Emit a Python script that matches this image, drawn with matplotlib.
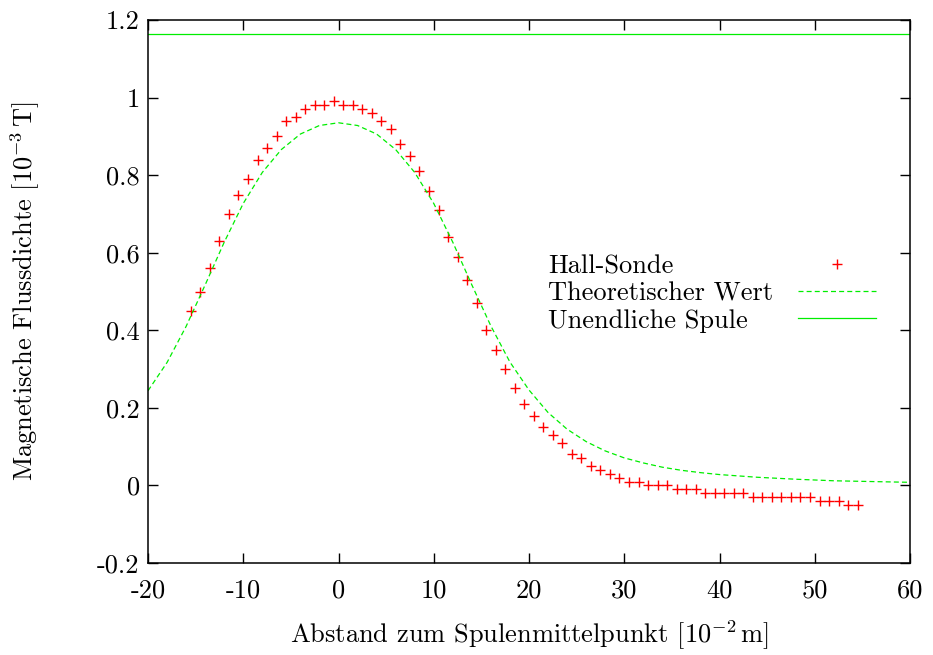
import matplotlib
matplotlib.use("Agg")
import matplotlib.pyplot as plt
import numpy as np

plt.rcParams['font.family'] = 'serif'
plt.rcParams['font.serif'] = ['cmr10']
plt.rcParams['mathtext.fontset'] = 'cm'
plt.rcParams['axes.unicode_minus'] = False
plt.rcParams['axes.formatter.use_mathtext'] = True

# Messwerte Hall-Sonde (Abstand in cm, B in mT)
hall_x = np.arange(-15.5, 55.0, 1.0)
hall_b = [0.45, 0.50, 0.56, 0.63, 0.70, 0.75, 0.79, 0.84, 0.87, 0.90,
          0.94, 0.95, 0.97, 0.98, 0.98, 0.99, 0.98, 0.98, 0.97, 0.96,
          0.94, 0.92, 0.88, 0.85, 0.81, 0.76, 0.71, 0.64, 0.59, 0.53,
          0.47, 0.40, 0.35, 0.30, 0.25, 0.21, 0.18, 0.15, 0.13, 0.11,
          0.08, 0.07, 0.05, 0.04, 0.03, 0.02, 0.01, 0.01, 0.00, 0.00,
          0.00, -0.01, -0.01, -0.01, -0.02, -0.02, -0.02, -0.02, -0.02,
          -0.03, -0.03, -0.03, -0.03, -0.03, -0.03, -0.03,
          -0.04, -0.04, -0.04, -0.05, -0.05]

# theoretische Kurve
theo_x = [-20, -18, -16, -14, -12, -10, -8, -6, -4, -2, 0,
          2, 4, 6, 8, 10, 12, 14, 16, 18, 20, 22, 24, 26, 28, 30,
          32, 34, 36, 38, 40, 44, 48, 52, 56, 60]
theo_b = [0.244, 0.317, 0.410, 0.517, 0.627, 0.727, 0.807, 0.866, 0.906, 0.928, 0.935,
          0.928, 0.906, 0.866, 0.807, 0.727, 0.627, 0.517, 0.411, 0.318, 0.246,
          0.188, 0.145, 0.113, 0.089, 0.071, 0.058, 0.047, 0.039, 0.033, 0.028,
          0.021, 0.016, 0.012, 0.010, 0.008]

b_unendlich = 1.165

x_ticks = [-20, -10, 0, 10, 20, 30, 40, 50, 60]
y_ticks = [-0.2, 0, 0.2, 0.4, 0.6, 0.8, 1.0, 1.2]
y_ticklabels = ["-0.2", "0", "0.2", "0.4", "0.6", "0.8", "1", "1.2"]

fs = 19

fig = plt.figure(figsize=(9.33, 6.55), dpi=100)
ax = fig.add_axes([148 / 933, 92 / 655, 762 / 933, 543 / 655])

hall, = ax.plot(hall_x, hall_b, linestyle='none', marker='+', color='red',
                markersize=7.5, markeredgewidth=1.0, label='Hall-Sonde')
theo, = ax.plot(theo_x, theo_b, color='#00ee00', linewidth=0.9, dashes=(4, 2.5),
                label='Theoretischer Wert')
unend = ax.axhline(b_unendlich, color='#00ee00', linewidth=0.9, label='Unendliche Spule')

ax.set_xlim(-20, 60)
ax.set_ylim(-0.2, 1.2)
ax.set_xticks(x_ticks)
ax.set_xticklabels([str(t) for t in x_ticks])
ax.set_yticks(y_ticks)
ax.set_yticklabels(y_ticklabels)
ax.tick_params(direction='in', length=7, width=1, top=True, right=True, labelsize=fs)
ax.tick_params(axis='x', pad=11)
ax.tick_params(axis='y', pad=6)
for s in ax.spines.values():
    s.set_linewidth(1.1)

ax.set_xlabel(r"Abstand zum Spulenmittelpunkt [$10^{-2}\,\mathrm{m}$]", fontsize=fs)
ax.set_ylabel(r"Magnetische Flussdichte [$10^{-3}\,\mathrm{T}$]", fontsize=fs)
ax.xaxis.set_label_coords(0.5, -0.103)
ax.yaxis.set_label_coords(-0.139, 0.5)

# Legende im gnuplot-Stil: Text links, Symbol rechts
handles = [hall, theo, unend]
labels = [h.get_label() for h in handles]
top = 1 - 255 / 655
leg_txt = ax.legend(handles, labels, loc='upper left', bbox_to_anchor=(548 / 933, top),
                    bbox_transform=fig.transFigure, frameon=False, fontsize=fs,
                    handlelength=0, handletextpad=0, borderpad=0, borderaxespad=0,
                    labelspacing=0.12)
for h in leg_txt.legend_handles:
    h.set_visible(False)
ax.add_artist(leg_txt)
ax.legend(handles, ['', '', ''], loc='upper right', bbox_to_anchor=(876 / 933, top),
          bbox_transform=fig.transFigure, frameon=False, fontsize=fs, markerfirst=False,
          handlelength=2.95, handletextpad=0, borderpad=0, borderaxespad=0,
          labelspacing=0.12, markerscale=0.95)

fig.savefig("out.png", dpi=100)
